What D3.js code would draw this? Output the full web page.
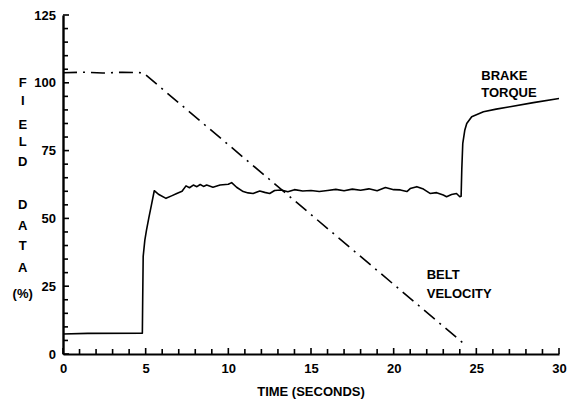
<!DOCTYPE html>
<html>
<head>
<meta charset="utf-8">
<script src="https://cdn.jsdelivr.net/npm/d3@7"></script>
<style>
  body { margin: 0; background: #fff; }
  svg { display: block; font-family: "Liberation Sans", Arial, sans-serif; font-weight: bold; }
  .axis text { font-size: 13px; font-weight: bold; fill: #000; font-family: "Liberation Sans", Arial, sans-serif; }
</style>
</head>
<body>
<div id="chart"></div>
<script>
// brake torque trace (time in s, value in %)
var brakeTime = [0, 1.5, 4.8, 4.82, 4.85, 4.95, 5.05, 5.2, 5.35, 5.52, 5.8, 6.23, 6.6, 6.88, 7.2, 7.44, 7.65, 7.88, 8.1, 8.3, 8.5, 8.69, 9.07, 9.5, 10.0, 10.2, 10.5, 10.9, 11.2, 11.5, 11.9, 12.2, 12.5, 12.8, 13.2, 13.6, 14, 14.5, 15, 15.5, 16, 16.5, 17, 17.5, 18, 18.5, 19, 19.5, 20, 20.4, 20.8, 21.0, 21.4, 21.8, 22.2, 22.6, 23.0, 23.2, 23.5, 23.8, 24.0, 24.08, 24.12, 24.18, 24.3, 24.42, 24.72, 25.43, 26.2, 27.04, 28.45, 30];
var brakeValue = [7.4, 7.6, 7.7, 20, 36, 42, 45.7, 50.5, 55, 60.2, 58.8, 57.4, 58.4, 59.2, 60, 62, 61.3, 62.3, 61.7, 62.5, 61.8, 62.3, 61.5, 62.3, 62.6, 63.2, 61.5, 59.9, 59.4, 59.2, 60.1, 59.6, 59.2, 60.3, 60.5, 59.8, 60.6, 60.1, 60.3, 59.9, 60.3, 60.7, 60.2, 60.8, 60.4, 60.9, 60.2, 61.4, 60.6, 60.5, 59.9, 61.0, 61.7, 60.8, 59.2, 59.5, 58.6, 58.0, 58.8, 59.2, 58.0, 58.2, 68, 77.7, 82.5, 85, 87.5, 89.3, 90.3, 91.2, 92.7, 94.2];

// belt velocity trace
var beltTime = [0, 1.2, 2.4, 3.6, 4.85, 24.4];
var beltValue = [103.7, 103.9, 103.6, 103.9, 103.7, 3.0];

var xTicks = [0, 5, 10, 15, 20, 25, 30];
var yTicks = [0, 25, 50, 75, 100, 125];
var xMinor = d3.range(0, 31, 1);
var yMinor = d3.range(0, 126, 5);
var yLabelLetters = ["F", "I", "E", "L", "D", "", "D", "A", "T", "A", "(%)"];

var margin = {top: 15, right: 11, bottom: 45, left: 63},
    width = 570 - margin.left - margin.right,
    height = 399 - margin.top - margin.bottom;

var x = d3.scaleLinear().domain([0, 30]).range([0, width]);
var y = d3.scaleLinear().domain([0, 125]).range([height, 0]);

var svg = d3.select("#chart").append("svg")
    .attr("width", 570)
    .attr("height", 399)
  .append("g")
    .attr("transform", "translate(" + margin.left + "," + margin.top + ")");

var brakeLine = d3.line()
    .x(function(d, i) { return x(brakeTime[i]); })
    .y(function(d) { return y(d); });

var beltLine = d3.line()
    .x(function(d, i) { return x(beltTime[i]); })
    .y(function(d) { return y(d); });

svg.append("path")
    .datum(brakeValue)
    .attr("fill", "none")
    .attr("stroke", "#000")
    .attr("stroke-width", 1.6)
    .attr("stroke-linejoin", "round")
    .attr("d", brakeLine);

svg.append("path")
    .datum(beltValue)
    .attr("fill", "none")
    .attr("stroke", "#000")
    .attr("stroke-width", 1.6)
    .attr("stroke-dasharray", "14,6,2,6")
    .attr("d", beltLine);

// axis lines + labels
svg.append("g")
    .attr("class", "axis")
    .attr("transform", "translate(0," + height + ")")
    .call(d3.axisBottom(x).tickValues(xTicks).tickSize(0).tickSizeOuter(0).tickPadding(10))
    .call(function(g) { g.select(".domain").attr("stroke", "#000").attr("stroke-width", 2.2); });

svg.append("g")
    .attr("class", "axis")
    .call(d3.axisLeft(y).tickValues(yTicks).tickSize(0).tickSizeOuter(0).tickPadding(7))
    .call(function(g) { g.select(".domain").attr("stroke", "#000").attr("stroke-width", 2.4); });

// tick marks pointing into the plot, as small filled rects
svg.selectAll(".xtick")
    .data(xMinor)
    .enter().append("rect")
    .attr("class", "xtick")
    .attr("x", function(d) { return x(d) - 0.8; })
    .attr("y", function(d) { return height - (d % 5 === 0 ? 6 : 5); })
    .attr("width", 1.6)
    .attr("height", function(d) { return d % 5 === 0 ? 6 : 5; })
    .attr("fill", "#000");

svg.selectAll(".ytick")
    .data(yMinor)
    .enter().append("rect")
    .attr("class", "ytick")
    .attr("x", 0)
    .attr("y", function(d) { return y(d) - 0.8; })
    .attr("width", function(d) { return d % 25 === 0 ? 6 : 5; })
    .attr("height", 1.6)
    .attr("fill", "#000");

// annotations
svg.append("text")
    .attr("x", x(25.3))
    .attr("y", 65)
    .style("font-size", "13px")
    .text("BRAKE");
svg.append("text")
    .attr("x", x(25.3))
    .attr("y", 82)
    .style("font-size", "13px")
    .text("TORQUE");

svg.append("text")
    .attr("x", x(22.0))
    .attr("y", 264)
    .style("font-size", "13px")
    .text("BELT");
svg.append("text")
    .attr("x", x(22.0))
    .attr("y", 283)
    .style("font-size", "13px")
    .text("VELOCITY");

svg.append("text")
    .attr("x", width / 2)
    .attr("y", height + 42)
    .attr("text-anchor", "middle")
    .style("font-size", "13px")
    .text("TIME (SECONDS)");

var yLabelPos = [67.7, 85.7, 109, 126.7, 146.7, 0, 189, 210, 230, 252, 278.3];
svg.selectAll(".ylet")
    .data(yLabelLetters)
    .enter().append("text")
    .attr("class", "ylet")
    .attr("x", 22.7 - margin.left)
    .attr("y", function(d, i) { return yLabelPos[i]; })
    .attr("dy", "0.35em")
    .attr("text-anchor", "middle")
    .style("font-size", "13px")
    .text(function(d) { return d; });
</script>
</body>
</html>
